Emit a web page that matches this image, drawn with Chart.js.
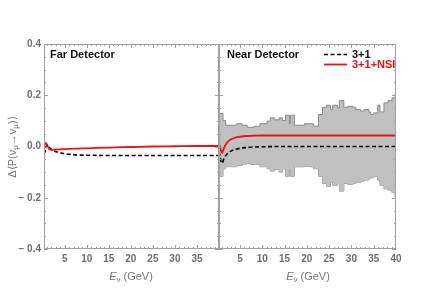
<!DOCTYPE html>
<html>
<head>
<meta charset="utf-8">
<script src="https://cdn.jsdelivr.net/npm/chart.js@4"></script>
<style>
    body { margin: 0; background: #fff; }
    #wrap { position: relative; width: 440px; height: 294px; font-family: "Liberation Sans", Arial, sans-serif; }
    canvas { position: absolute; left: 0; top: 0; }
    .painel { position: absolute; font-weight: bold; font-size: 11px; line-height: 13px; color: #111; white-space: nowrap; }
    .eixo { position: absolute; font-size: 11px; line-height: 13px; color: #777; white-space: nowrap; transform: translate(-50%, -50%); }
    .eixo sub { font-size: 8px; vertical-align: -2px; line-height: 0; }
</style>
</head>
<body>
<div id="wrap">
    <canvas id="farChart" width="440" height="294"></canvas>
    <canvas id="nearChart" width="440" height="294"></canvas>
    <div class="painel" style="left:50px; top:48px;">Far Detector</div>
    <div class="painel" style="left:227px; top:48px;">Near Detector</div>
    <svg style="position:absolute; left:0; top:0;" width="440" height="294">
        <line x1="324" y1="54.5" x2="347" y2="54.5" stroke="#000" stroke-width="1.6" stroke-dasharray="4 2.5"></line>
        <line x1="324" y1="64.5" x2="347" y2="64.5" stroke="#ee1111" stroke-width="1.8"></line>
    </svg>
    <div class="painel" style="left:352px; top:48px;">3+1</div>
    <div class="painel" style="left:352px; top:58px; color:#ee1111;">3+1+NSI</div>
    <div class="eixo" style="left:12px; top:147px; transform: translate(-50%, -50%) rotate(-90deg);">Δ⟨P(ν<sub>μ</sub>→ν<sub>μ</sub>)⟩</div>
    <div class="eixo" style="left:131px; top:276px;"><i>E</i><sub>ν</sub> (GeV)</div>
    <div class="eixo" style="left:308px; top:276px;"><i>E</i><sub>ν</sub> (GeV)</div>
</div>
<script>
// energias (GeV) onde as curvas foram lidas
const curveE = [0.3, 0.5, 0.7, 1.0, 1.3, 1.7, 2.2, 3, 4, 5, 6.5, 8, 10, 15, 20, 25, 30, 35, 40];

// Far Detector
const farStd = [-0.028, -0.022, -0.005, 0.008, 0.002, -0.007, -0.014, -0.020, -0.025, -0.028, -0.031, -0.033, -0.034, -0.035, -0.035, -0.035, -0.035, -0.035, -0.035];
const farNsi = [0.0, 0.008, 0.014, 0.006, -0.006, -0.012, -0.013, -0.012, -0.011, -0.010, -0.009, -0.008, -0.007, -0.004, -0.002, 0.0, 0.001, 0.002, 0.002];

// Near Detector
const nearStd = [-0.02, -0.035, -0.055, -0.065, -0.052, -0.038, -0.028, -0.018, -0.011, -0.007, -0.004, -0.002, -0.001, 0.0, 0.0, 0.0, 0.0, 0.0, 0.0];
const nearNsi = [0.008, 0.0, -0.015, -0.025, -0.012, 0.004, 0.017, 0.028, 0.035, 0.038, 0.041, 0.042, 0.043, 0.043, 0.043, 0.043, 0.043, 0.043, 0.043];

// faixa de incerteza do Near Detector (histograma)
const binEdges = [0.3, 1.2, 1.8, 4.3, 5.5, 6.6, 7.3, 8.2, 9.5, 11.1, 11.8, 12.7, 13.8, 14.5, 15.2, 16.1, 16.3, 17.2, 19.5, 20.8, 21.5, 22.6, 23.5, 24.4, 25.3, 25.8, 26.9, 27.3, 28.3, 29.2, 30.3, 31.0, 32.1, 32.8, 33.9, 34.3, 35.0, 35.9, 36.4, 37.3, 38.2, 39.1, 39.8, 40];
const bandUpper = [0.129, 0.101, 0.083, 0.089, 0.083, 0.075, 0.075, 0.079, 0.089, 0.099, 0.112, 0.104, 0.112, 0.101, 0.122, 0.089, 0.122, 0.083, 0.089, 0.089, 0.079, 0.125, 0.153, 0.161, 0.144, 0.161, 0.151, 0.179, 0.153, 0.157, 0.153, 0.144, 0.138, 0.144, 0.135, 0.125, 0.131, 0.161, 0.135, 0.170, 0.179, 0.190, 0.205];
const bandLower = [-0.117, -0.087, -0.079, -0.074, -0.068, -0.066, -0.070, -0.070, -0.079, -0.087, -0.096, -0.090, -0.100, -0.087, -0.116, -0.087, -0.116, -0.079, -0.077, -0.079, -0.087, -0.116, -0.144, -0.155, -0.139, -0.151, -0.141, -0.174, -0.144, -0.148, -0.144, -0.141, -0.135, -0.131, -0.126, -0.122, -0.116, -0.131, -0.151, -0.165, -0.170, -0.180, -0.196];

const yTicks = [-0.4, -0.2, 0.0, 0.2, 0.4];
const xTicks = [5, 10, 15, 20, 25, 30, 35, 40];

const RED = "#ee1111";
const GRAY_TEXT = "#6e6e6e";

function pontos(xs, ys) {
    return xs.map((x, i) => ({ x: x, y: ys[i] }));
}

function degraus(edges, vals) {
    return edges.map((e, i) => ({ x: e, y: vals[Math.min(i, vals.length - 1)] }));
}

// moldura com marcas para dentro, estilo Mathematica
const molduraPlugin = {
    id: "moldura",
    afterDatasetsDraw(chart) {
        const { ctx, chartArea: a, scales } = chart;
        const x = scales.x, y = scales.y;
        ctx.save();
        ctx.strokeStyle = "#a0a0a0";
        ctx.lineWidth = 1;
        ctx.strokeRect(a.left + 0.5, a.top + 0.5, a.right - a.left - 1, a.bottom - a.top - 1);
        ctx.beginPath();
        for (let k = -8; k <= 8; k++) {
            const py = Math.round(y.getPixelForValue(k * 0.05)) + 0.5;
            const len = k % 4 === 0 ? 4 : 2;
            ctx.moveTo(a.left, py); ctx.lineTo(a.left + len, py);
            ctx.moveTo(a.right, py); ctx.lineTo(a.right - len, py);
        }
        for (let e = 1; e < 40; e++) {
            const px = Math.round(x.getPixelForValue(e)) + 0.5;
            const len = e % 5 === 0 ? 4 : 2;
            ctx.moveTo(px, a.bottom); ctx.lineTo(px, a.bottom - len);
            ctx.moveTo(px, a.top); ctx.lineTo(px, a.top + len);
        }
        ctx.stroke();
        ctx.restore();
    }
};

function curva(data, cor, tracejado) {
    return {
        data: data,
        borderColor: cor,
        borderWidth: tracejado ? 1.6 : 1.8,
        borderDash: tracejado ? [4, 2.5] : [],
        pointRadius: 0,
        fill: false,
        cubicInterpolationMode: "monotone"
    };
}

function opcoes(isFar) {
    return {
        responsive: false,
        animation: false,
        events: [],
        layout: { padding: isFar ? { left: 0, right: 221, top: 44, bottom: 0 } : { left: 219, right: 44, top: 44, bottom: 0 } },
        plugins: { legend: { display: false }, tooltip: { enabled: false } },
        scales: {
            x: {
                type: "linear",
                min: 0.3,
                max: 40,
                grid: { display: false, drawTicks: false },
                border: { display: false },
                afterFit: (s) => { s.height = 45; },
                afterBuildTicks: (s) => {
                    s.ticks = xTicks.filter(v => !isFar || v < 40).map(v => ({ value: v }));
                },
                ticks: {
                    autoSkip: false,
                    maxRotation: 0,
                    padding: 4,
                    color: GRAY_TEXT,
                    font: { family: "Liberation Sans", size: 10, weight: "bold" },
                    callback: (v) => String(v)
                }
            },
            y: {
                display: isFar,
                min: -0.4,
                max: 0.4,
                grid: { display: false, drawTicks: false },
                border: { display: false },
                afterFit: (s) => { s.width = isFar ? 44 : 0; },
                afterBuildTicks: (s) => { s.ticks = yTicks.map(v => ({ value: v })); },
                ticks: {
                    padding: 3,
                    color: GRAY_TEXT,
                    font: { family: "Liberation Sans", size: 10, weight: "bold" },
                    callback: (v) => (v < 0 ? "\u2212 " + Math.abs(v).toFixed(1) : v.toFixed(1))
                }
            }
        }
    };
}

document.addEventListener("DOMContentLoaded", function () {
    // painel esquerdo: Far Detector
    new Chart(document.getElementById("farChart"), {
        type: "line",
        data: {
            datasets: [
                curva(pontos(curveE, farNsi), RED, false),
                curva(pontos(curveE, farStd), "#000", true)
            ]
        },
        options: opcoes(true),
        plugins: [molduraPlugin]
    });

    // painel direito: Near Detector com faixa cinza
    new Chart(document.getElementById("nearChart"), {
        type: "line",
        data: {
            datasets: [
                curva(pontos(curveE, nearNsi), RED, false),
                curva(pontos(curveE, nearStd), "#000", true),
                {
                    data: degraus(binEdges, bandUpper),
                    stepped: true,
                    borderColor: "#8a8a8a",
                    borderWidth: 1,
                    backgroundColor: "#c0c0c0",
                    pointRadius: 0,
                    fill: "+1"
                },
                {
                    data: degraus(binEdges, bandLower),
                    stepped: true,
                    borderColor: "#8a8a8a",
                    borderWidth: 1,
                    pointRadius: 0,
                    fill: false
                }
            ]
        },
        options: opcoes(false),
        plugins: [molduraPlugin]
    });
});
</script>
</body>
</html>
